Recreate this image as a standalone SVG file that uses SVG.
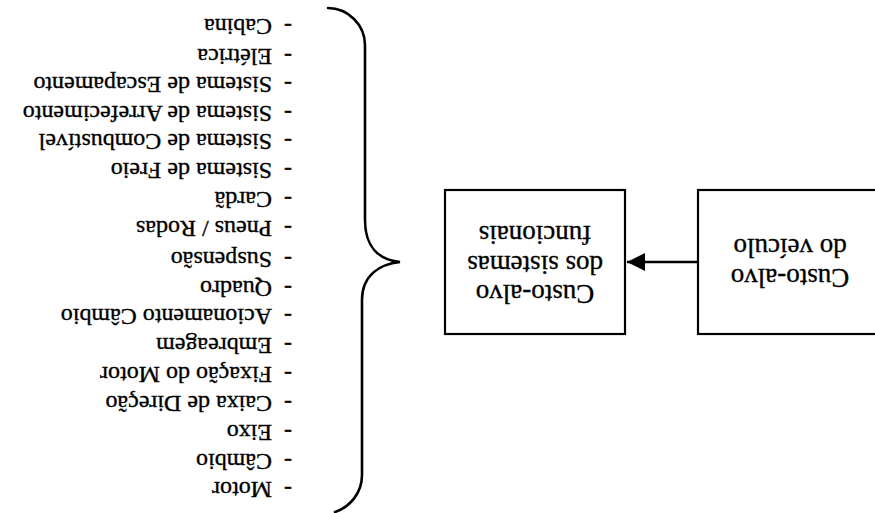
<svg xmlns="http://www.w3.org/2000/svg" width="875" height="513" viewBox="0 0 875 513">
  <style>
    .box { fill: #fff; stroke: #000; stroke-width: 2.2; }
    .lbl { font-family: "Liberation Serif", "Times New Roman", serif; font-size: 24px; fill: #000; stroke: #000; stroke-width: 0.35; }
    .big { font-size: 27px; }
    .mid { text-anchor: middle; }
    .edge { fill: none; stroke: #000; stroke-width: 2.5; }
    .brace { fill: none; stroke: #000; stroke-width: 2.6; stroke-linecap: round; }
  </style>
  <defs>
    <marker id="arrowhead" markerUnits="userSpaceOnUse" markerWidth="18" markerHeight="18" refX="18" refY="9" orient="auto">
      <path d="M0,0 L18,9 L0,18 z" fill="#000"/>
    </marker>
  </defs>
  <rect width="875" height="513" fill="#fff"/>

  <!-- the whole sheet is printed turned half a turn -->
  <g transform="rotate(180 437.5 256.5)">
    <g id="node-vehicle">
      <rect class="box" x="-8" y="179" width="185" height="144"/>
      <text class="lbl big mid" x="85" y="244">Custo-alvo</text>
      <text class="lbl big mid" x="85" y="274">do veículo</text>
    </g>

    <g id="node-systems">
      <rect class="box" x="250" y="179" width="180" height="144"/>
      <text class="lbl big mid" x="340" y="228">Custo-alvo</text>
      <text class="lbl big mid" x="340" y="257">dos sistemas</text>
      <text class="lbl big mid" x="340" y="287">funcionais</text>
    </g>

    <g id="connectors">
      <line class="edge" x1="177" y1="251" x2="248" y2="251" marker-end="url(#arrowhead)"/>
    </g>

    <g id="brace">
      <path class="brace" d="M540,1 C525,6 513,20 513,38 L513,213 C513,238 495,249 475,251 C495,253 510,265 510,293 L510,468 C510,488 527,505 547,505"/>
    </g>

    <g id="node-list" class="lbl">
      <text y="31"><tspan x="583">-</tspan><tspan x="603">Motor</tspan></text>
      <text y="59.5"><tspan x="583">-</tspan><tspan x="603">Câmbio</tspan></text>
      <text y="88"><tspan x="583">-</tspan><tspan x="603">Eixo</tspan></text>
      <text y="117"><tspan x="583">-</tspan><tspan x="603">Caixa de Direção</tspan></text>
      <text y="146.5"><tspan x="583">-</tspan><tspan x="603">Fixação do Motor</tspan></text>
      <text y="175.5"><tspan x="583">-</tspan><tspan x="603">Embreagem</tspan></text>
      <text y="204"><tspan x="583">-</tspan><tspan x="603">Acionamento Câmbio</tspan></text>
      <text y="232.5"><tspan x="583">-</tspan><tspan x="603">Quadro</tspan></text>
      <text y="261.5"><tspan x="583">-</tspan><tspan x="603">Suspensão</tspan></text>
      <text y="292.5"><tspan x="583">-</tspan><tspan x="603">Pneus / Rodas</tspan></text>
      <text y="321.5"><tspan x="583">-</tspan><tspan x="603">Cardã</tspan></text>
      <text y="350.5"><tspan x="583">-</tspan><tspan x="603">Sistema de Freio</tspan></text>
      <text y="379"><tspan x="583">-</tspan><tspan x="603">Sistema de Combustível</tspan></text>
      <text y="407"><tspan x="583">-</tspan><tspan x="603">Sistema de Arrefecimento</tspan></text>
      <text y="436"><tspan x="583">-</tspan><tspan x="603">Sistema de Escapamento</tspan></text>
      <text y="464.5"><tspan x="583">-</tspan><tspan x="603">Elétrica</tspan></text>
      <text y="494"><tspan x="583">-</tspan><tspan x="603">Cabina</tspan></text>
    </g>
  </g>
</svg>
